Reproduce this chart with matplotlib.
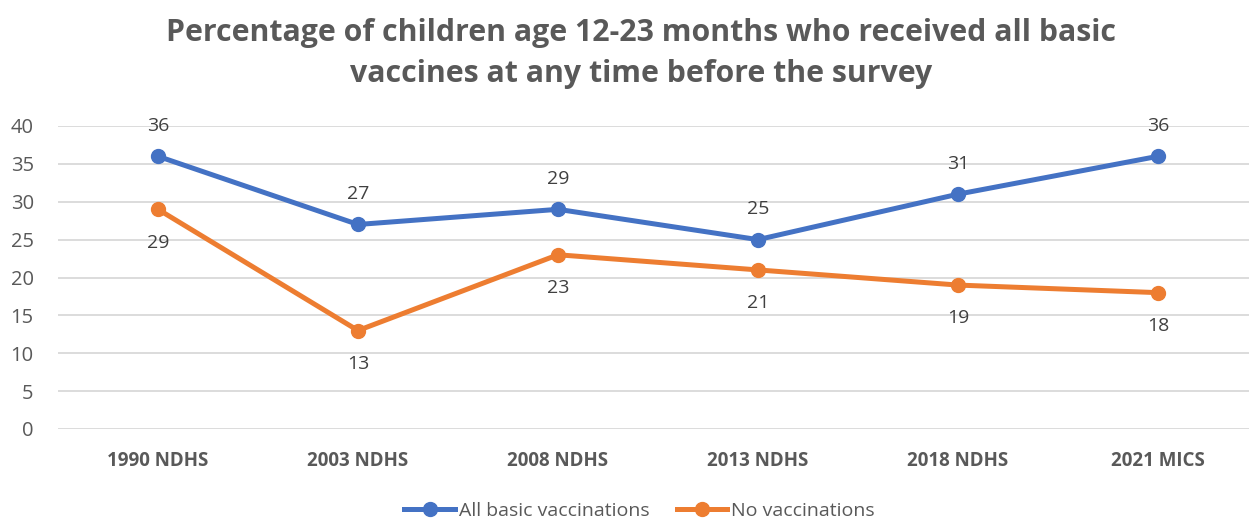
import numpy as np
import matplotlib.pyplot as plt

plt.rcParams['font.family'] = ['Open Sans', 'DejaVu Sans']

# data
surveys = ['1990 NDHS', '2003 NDHS', '2008 NDHS', '2013 NDHS', '2018 NDHS', '2021 MICS']
all_basic = [36, 27, 29, 25, 31, 36]
no_vacc = [29, 13, 23, 21, 19, 18]

blue = '#4472C4'
orange = '#ED7D31'
grey = '#595959'

fig = plt.figure(figsize=(12.49, 5.21), dpi=100)
ax = fig.add_axes([58/1249, 1-429/521, (1249-58)/1249, (429-126)/521])

x = np.arange(len(surveys))
ax.plot(x, all_basic, color=blue, lw=3.6, marker='o', ms=10, label='All basic vaccinations', clip_on=False, zorder=3)
ax.plot(x, no_vacc, color=orange, lw=3.6, marker='o', ms=10, label='No vaccinations', clip_on=False, zorder=3)

# data labels
for xi, v in zip(x, all_basic):
    ax.annotate(str(v), (xi, v), xytext=(0, 22), textcoords='offset points',
                ha='center', va='center', fontsize=14, color='#404040')
for xi, v in zip(x, no_vacc):
    ax.annotate(str(v), (xi, v), xytext=(0, -24), textcoords='offset points',
                ha='center', va='center', fontsize=14, color='#404040')

ax.set_xlim(-0.5, (1249-158)/200)
ax.set_ylim(0, 40)
ax.set_yticks(np.arange(0, 41, 5))
ax.set_xticks(x)
ax.set_xticklabels(surveys, fontsize=13.5, fontweight='bold', color=grey)
ax.tick_params(axis='y', labelsize=14.5, labelcolor=grey, length=0, pad=17.5)
ax.tick_params(axis='x', length=0, pad=16)
ax.grid(axis='y', color='#D9D9D9', lw=1.3)
ax.set_axisbelow(True)
for s in ax.spines.values():
    s.set_visible(False)

fig.text(0.513, 0.965, 'Percentage of children age 12-23 months who received all basic\nvaccines at any time before the survey',
         ha='center', va='top', fontsize=21.8, fontweight='bold', color=grey, linespacing=1.45)

fig.legend(loc='center', bbox_to_anchor=(0.512, 0.02), ncol=2, frameon=False,
           fontsize=14, labelcolor=grey, handlelength=2.6, handletextpad=0.2, columnspacing=1.4)

fig.savefig('out.png', dpi=100)
